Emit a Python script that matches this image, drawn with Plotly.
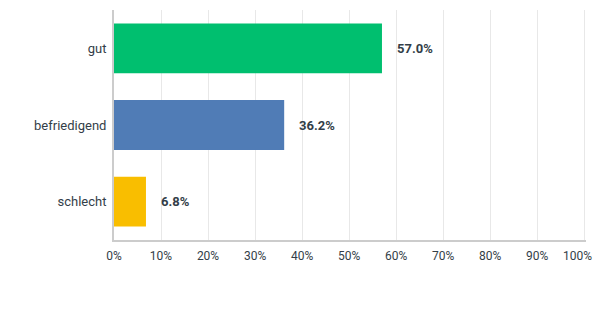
import plotly.graph_objects as go

categories = ["gut", "befriedigend", "schlecht"]
values = [57.0, 36.2, 6.8]
colors = ["#00BF6F", "#507CB6", "#F9BE00"]
tick_vals = [0, 10, 20, 30, 40, 50, 60, 70, 80, 90, 100]
tick_labels = ["0%", "10%", "20%", "30%", "40%", "50%", "60%", "70%", "80%", "90%", "100%"]

font_family = "Roboto, 'Open Sans', sans-serif"
text_color = "#333e48"

fig = go.Figure()
fig.add_trace(go.Bar(
    y=categories,
    x=values,
    orientation="h",
    marker=dict(color=colors, line=dict(width=0)),
    hoverinfo="skip",
))

for c, v in zip(categories, values):
    fig.add_annotation(
        x=v, y=c, text=f"<b>{v:.1f}%</b>", showarrow=False,
        xanchor="left", xshift=13, font=dict(size=13, color=text_color, family=font_family),
    )

# the last tick label is kept inside the page (right-aligned near its gridline)
fig.add_annotation(
    x=tick_vals[-1], y=0, xref="x", yref="paper", text=tick_labels[-1],
    showarrow=False, xanchor="right", yanchor="middle", xshift=10, yshift=-16,
    font=dict(size=12, color=text_color, family=font_family),
)

fig.update_layout(
    width=594, height=310,
    margin=dict(l=114, r=8, t=10, b=70),
    plot_bgcolor="white", paper_bgcolor="white",
    bargap=0.35,
    showlegend=False,
    font=dict(family=font_family, color=text_color, size=12),
    xaxis=dict(
        range=[0, 100.4], tickvals=tick_vals, ticktext=tick_labels[:-1] + [""],
        showgrid=True, gridcolor="#e8e8e8", gridwidth=1,
        zeroline=False, showline=True, linecolor="#cccccc", linewidth=1.5,
        ticks="", tickfont=dict(size=12, color=text_color), fixedrange=True,
        automargin=False, ticklabelstandoff=4,
    ),
    yaxis=dict(
        categoryorder="array", categoryarray=categories[::-1],
        showline=True, linecolor="#cccccc", linewidth=1.5,
        ticks="", ticksuffix=" ", tickfont=dict(size=13, color=text_color),
        showgrid=False, fixedrange=True,
    ),
)

fig.write_html("out.html", config={"displayModeBar": False})
